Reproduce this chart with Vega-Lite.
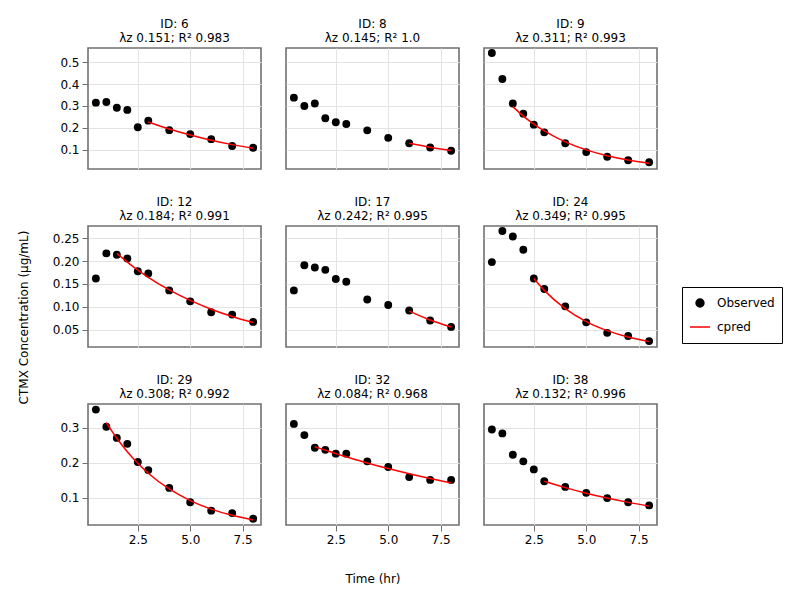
{
  "$schema": "https://vega.github.io/schema/vega-lite/v6.json",
  "padding": {"left": 16, "top": 17, "right": 10, "bottom": 10},
  "background": "white",
  "datasets": {
    "obs": [
      {"id":6,"time":0.5,"conc":0.315,"series":"Observed"},{"id":6,"time":1,"conc":0.318,"series":"Observed"},{"id":6,"time":1.5,"conc":0.292,"series":"Observed"},{"id":6,"time":2,"conc":0.282,"series":"Observed"},{"id":6,"time":2.5,"conc":0.203,"series":"Observed"},{"id":6,"time":3,"conc":0.233,"series":"Observed"},{"id":6,"time":4,"conc":0.190,"series":"Observed"},{"id":6,"time":5,"conc":0.172,"series":"Observed"},{"id":6,"time":6,"conc":0.149,"series":"Observed"},{"id":6,"time":7,"conc":0.118,"series":"Observed"},{"id":6,"time":8,"conc":0.110,"series":"Observed"},
      {"id":8,"time":0.5,"conc":0.338,"series":"Observed"},{"id":8,"time":1,"conc":0.300,"series":"Observed"},{"id":8,"time":1.5,"conc":0.311,"series":"Observed"},{"id":8,"time":2,"conc":0.244,"series":"Observed"},{"id":8,"time":2.5,"conc":0.226,"series":"Observed"},{"id":8,"time":3,"conc":0.218,"series":"Observed"},{"id":8,"time":4,"conc":0.189,"series":"Observed"},{"id":8,"time":5,"conc":0.155,"series":"Observed"},{"id":8,"time":6,"conc":0.130,"series":"Observed"},{"id":8,"time":7,"conc":0.111,"series":"Observed"},{"id":8,"time":8,"conc":0.096,"series":"Observed"},
      {"id":9,"time":0.5,"conc":0.541,"series":"Observed"},{"id":9,"time":1,"conc":0.423,"series":"Observed"},{"id":9,"time":1.5,"conc":0.311,"series":"Observed"},{"id":9,"time":2,"conc":0.265,"series":"Observed"},{"id":9,"time":2.5,"conc":0.215,"series":"Observed"},{"id":9,"time":3,"conc":0.180,"series":"Observed"},{"id":9,"time":4,"conc":0.130,"series":"Observed"},{"id":9,"time":5,"conc":0.090,"series":"Observed"},{"id":9,"time":6,"conc":0.069,"series":"Observed"},{"id":9,"time":7,"conc":0.053,"series":"Observed"},{"id":9,"time":8,"conc":0.044,"series":"Observed"},
      {"id":12,"time":0.5,"conc":0.162,"series":"Observed"},{"id":12,"time":1,"conc":0.217,"series":"Observed"},{"id":12,"time":1.5,"conc":0.214,"series":"Observed"},{"id":12,"time":2,"conc":0.206,"series":"Observed"},{"id":12,"time":2.5,"conc":0.178,"series":"Observed"},{"id":12,"time":3,"conc":0.173,"series":"Observed"},{"id":12,"time":4,"conc":0.136,"series":"Observed"},{"id":12,"time":5,"conc":0.112,"series":"Observed"},{"id":12,"time":6,"conc":0.088,"series":"Observed"},{"id":12,"time":7,"conc":0.083,"series":"Observed"},{"id":12,"time":8,"conc":0.067,"series":"Observed"},
      {"id":17,"time":0.5,"conc":0.136,"series":"Observed"},{"id":17,"time":1,"conc":0.191,"series":"Observed"},{"id":17,"time":1.5,"conc":0.186,"series":"Observed"},{"id":17,"time":2,"conc":0.181,"series":"Observed"},{"id":17,"time":2.5,"conc":0.161,"series":"Observed"},{"id":17,"time":3,"conc":0.155,"series":"Observed"},{"id":17,"time":4,"conc":0.116,"series":"Observed"},{"id":17,"time":5,"conc":0.104,"series":"Observed"},{"id":17,"time":6,"conc":0.092,"series":"Observed"},{"id":17,"time":7,"conc":0.070,"series":"Observed"},{"id":17,"time":8,"conc":0.056,"series":"Observed"},
      {"id":24,"time":0.5,"conc":0.198,"series":"Observed"},{"id":24,"time":1,"conc":0.266,"series":"Observed"},{"id":24,"time":1.5,"conc":0.254,"series":"Observed"},{"id":24,"time":2,"conc":0.225,"series":"Observed"},{"id":24,"time":2.5,"conc":0.162,"series":"Observed"},{"id":24,"time":3,"conc":0.139,"series":"Observed"},{"id":24,"time":4,"conc":0.101,"series":"Observed"},{"id":24,"time":5,"conc":0.066,"series":"Observed"},{"id":24,"time":6,"conc":0.043,"series":"Observed"},{"id":24,"time":7,"conc":0.036,"series":"Observed"},{"id":24,"time":8,"conc":0.025,"series":"Observed"},
      {"id":29,"time":0.5,"conc":0.352,"series":"Observed"},{"id":29,"time":1,"conc":0.303,"series":"Observed"},{"id":29,"time":1.5,"conc":0.271,"series":"Observed"},{"id":29,"time":2,"conc":0.254,"series":"Observed"},{"id":29,"time":2.5,"conc":0.202,"series":"Observed"},{"id":29,"time":3,"conc":0.179,"series":"Observed"},{"id":29,"time":4,"conc":0.128,"series":"Observed"},{"id":29,"time":5,"conc":0.087,"series":"Observed"},{"id":29,"time":6,"conc":0.063,"series":"Observed"},{"id":29,"time":7,"conc":0.056,"series":"Observed"},{"id":29,"time":8,"conc":0.040,"series":"Observed"},
      {"id":32,"time":0.5,"conc":0.311,"series":"Observed"},{"id":32,"time":1,"conc":0.279,"series":"Observed"},{"id":32,"time":1.5,"conc":0.243,"series":"Observed"},{"id":32,"time":2,"conc":0.237,"series":"Observed"},{"id":32,"time":2.5,"conc":0.226,"series":"Observed"},{"id":32,"time":3,"conc":0.226,"series":"Observed"},{"id":32,"time":4,"conc":0.204,"series":"Observed"},{"id":32,"time":5,"conc":0.188,"series":"Observed"},{"id":32,"time":6,"conc":0.159,"series":"Observed"},{"id":32,"time":7,"conc":0.151,"series":"Observed"},{"id":32,"time":8,"conc":0.151,"series":"Observed"},
      {"id":38,"time":0.5,"conc":0.295,"series":"Observed"},{"id":38,"time":1,"conc":0.284,"series":"Observed"},{"id":38,"time":1.5,"conc":0.223,"series":"Observed"},{"id":38,"time":2,"conc":0.204,"series":"Observed"},{"id":38,"time":2.5,"conc":0.181,"series":"Observed"},{"id":38,"time":3,"conc":0.147,"series":"Observed"},{"id":38,"time":4,"conc":0.131,"series":"Observed"},{"id":38,"time":5,"conc":0.114,"series":"Observed"},{"id":38,"time":6,"conc":0.099,"series":"Observed"},{"id":38,"time":7,"conc":0.087,"series":"Observed"},{"id":38,"time":8,"conc":0.078,"series":"Observed"}
    ],
    "pred": [
      {"id":6,"time":3,"conc":0.227,"series":"cpred"},{"id":6,"time":4,"conc":0.195,"series":"cpred"},{"id":6,"time":5,"conc":0.168,"series":"cpred"},{"id":6,"time":6,"conc":0.144,"series":"cpred"},{"id":6,"time":7,"conc":0.124,"series":"cpred"},{"id":6,"time":8,"conc":0.107,"series":"cpred"},
      {"id":8,"time":6,"conc":0.130,"series":"cpred"},{"id":8,"time":7,"conc":0.1125,"series":"cpred"},{"id":8,"time":8,"conc":0.0973,"series":"cpred"},
      {"id":9,"time":1.5,"conc":0.297,"series":"cpred"},{"id":9,"time":2,"conc":0.254,"series":"cpred"},{"id":9,"time":2.5,"conc":0.2177,"series":"cpred"},{"id":9,"time":3,"conc":0.1863,"series":"cpred"},{"id":9,"time":4,"conc":0.1365,"series":"cpred"},{"id":9,"time":5,"conc":0.100,"series":"cpred"},{"id":9,"time":6,"conc":0.0733,"series":"cpred"},{"id":9,"time":7,"conc":0.0537,"series":"cpred"},{"id":9,"time":8,"conc":0.0393,"series":"cpred"},
      {"id":12,"time":1.5,"conc":0.217,"series":"cpred"},{"id":12,"time":2,"conc":0.198,"series":"cpred"},{"id":12,"time":2.5,"conc":0.1805,"series":"cpred"},{"id":12,"time":3,"conc":0.1647,"series":"cpred"},{"id":12,"time":4,"conc":0.137,"series":"cpred"},{"id":12,"time":5,"conc":0.114,"series":"cpred"},{"id":12,"time":6,"conc":0.0948,"series":"cpred"},{"id":12,"time":7,"conc":0.0789,"series":"cpred"},{"id":12,"time":8,"conc":0.0656,"series":"cpred"},
      {"id":17,"time":6,"conc":0.0906,"series":"cpred"},{"id":17,"time":7,"conc":0.0711,"series":"cpred"},{"id":17,"time":8,"conc":0.0558,"series":"cpred"},
      {"id":24,"time":2.5,"conc":0.162,"series":"cpred"},{"id":24,"time":3,"conc":0.136,"series":"cpred"},{"id":24,"time":4,"conc":0.096,"series":"cpred"},{"id":24,"time":5,"conc":0.0677,"series":"cpred"},{"id":24,"time":6,"conc":0.0478,"series":"cpred"},{"id":24,"time":7,"conc":0.0337,"series":"cpred"},{"id":24,"time":8,"conc":0.0238,"series":"cpred"},
      {"id":29,"time":1,"conc":0.315,"series":"cpred"},{"id":29,"time":1.5,"conc":0.270,"series":"cpred"},{"id":29,"time":2,"conc":0.2315,"series":"cpred"},{"id":29,"time":2.5,"conc":0.1985,"series":"cpred"},{"id":29,"time":3,"conc":0.170,"series":"cpred"},{"id":29,"time":4,"conc":0.125,"series":"cpred"},{"id":29,"time":5,"conc":0.0919,"series":"cpred"},{"id":29,"time":6,"conc":0.0675,"series":"cpred"},{"id":29,"time":7,"conc":0.0496,"series":"cpred"},{"id":29,"time":8,"conc":0.0365,"series":"cpred"},
      {"id":32,"time":1.5,"conc":0.246,"series":"cpred"},{"id":32,"time":2,"conc":0.236,"series":"cpred"},{"id":32,"time":2.5,"conc":0.226,"series":"cpred"},{"id":32,"time":3,"conc":0.217,"series":"cpred"},{"id":32,"time":4,"conc":0.1994,"series":"cpred"},{"id":32,"time":5,"conc":0.1833,"series":"cpred"},{"id":32,"time":6,"conc":0.1685,"series":"cpred"},{"id":32,"time":7,"conc":0.155,"series":"cpred"},{"id":32,"time":8,"conc":0.1425,"series":"cpred"},
      {"id":38,"time":3,"conc":0.147,"series":"cpred"},{"id":38,"time":4,"conc":0.1288,"series":"cpred"},{"id":38,"time":5,"conc":0.1129,"series":"cpred"},{"id":38,"time":6,"conc":0.0989,"series":"cpred"},{"id":38,"time":7,"conc":0.0867,"series":"cpred"},{"id":38,"time":8,"conc":0.076,"series":"cpred"}
    ]
  },
  "resolve": {"scale": {"color": "shared", "shape": "shared", "size": "shared"}, "legend": {"color": "shared", "shape": "shared", "size": "shared"}},
  "bounds": "flush",
  "spacing": 178,
  "vconcat": [
    {
      "bounds": "flush", "spacing": 25,
      "hconcat": [
        {"width":173,"height":121,"title":{"text":["ID: 6","λz 0.151; R² 0.983"]},
         "layer":[
          {"data":{"name":"obs"},"transform":[{"filter":"datum.id==6"}],"mark":{"type":"point","filled":true,"opacity":1},
           "encoding":{"x":{"field":"time","type":"quantitative","scale":{"domain":[0.125,8.375],"nice":false,"zero":false},"axis":{"values":[2.5,5,7.5],"labels":false,"ticks":false,"title":null}},
             "y":{"field":"conc","type":"quantitative","scale":{"domain":[0.013,0.564],"nice":false,"zero":false},"axis":{"values":[0.1,0.2,0.3,0.4,0.5],"tickCount":10,"format":".1f","title":null,"labelOverlap":false}},
             "color":{"field":"series","type":"nominal","scale":{"domain":["Observed","cpred"],"range":["black","red"]},"legend":{"title":null}},
             "shape":{"field":"series","type":"nominal","scale":{"domain":["Observed","cpred"],"range":["circle","stroke"]},"legend":{"title":null}},
             "size":{"field":"series","type":"nominal","scale":{"domain":["Observed","cpred"],"range":[62,400]},"legend":{"title":null}}}},
          {"data":{"name":"pred"},"transform":[{"filter":"datum.id==6"}],"mark":{"type":"line","strokeWidth":1.5,"interpolate":"monotone"},
           "encoding":{"x":{"field":"time","type":"quantitative"},"y":{"field":"conc","type":"quantitative"},"color":{"field":"series","type":"nominal"}}}
         ]},
        {"width":173,"height":121,"title":{"text":["ID: 8","λz 0.145; R² 1.0"]},
         "layer":[
          {"data":{"name":"obs"},"transform":[{"filter":"datum.id==8"}],"mark":{"type":"point","filled":true,"opacity":1},
           "encoding":{"x":{"field":"time","type":"quantitative","scale":{"domain":[0.125,8.375],"nice":false,"zero":false},"axis":{"values":[2.5,5,7.5],"labels":false,"ticks":false,"title":null}},
             "y":{"field":"conc","type":"quantitative","scale":{"domain":[0.013,0.564],"nice":false,"zero":false},"axis":{"values":[0.1,0.2,0.3,0.4,0.5],"tickCount":10,"labels":false,"ticks":false,"title":null}},
             "color":{"field":"series","type":"nominal"},"shape":{"field":"series","type":"nominal"},"size":{"field":"series","type":"nominal"}}},
          {"data":{"name":"pred"},"transform":[{"filter":"datum.id==8"}],"mark":{"type":"line","strokeWidth":1.5,"interpolate":"monotone"},
           "encoding":{"x":{"field":"time","type":"quantitative"},"y":{"field":"conc","type":"quantitative"},"color":{"field":"series","type":"nominal"}}}
         ]},
        {"width":173,"height":121,"title":{"text":["ID: 9","λz 0.311; R² 0.993"]},
         "layer":[
          {"data":{"name":"obs"},"transform":[{"filter":"datum.id==9"}],"mark":{"type":"point","filled":true,"opacity":1},
           "encoding":{"x":{"field":"time","type":"quantitative","scale":{"domain":[0.125,8.375],"nice":false,"zero":false},"axis":{"values":[2.5,5,7.5],"labels":false,"ticks":false,"title":null}},
             "y":{"field":"conc","type":"quantitative","scale":{"domain":[0.013,0.564],"nice":false,"zero":false},"axis":{"values":[0.1,0.2,0.3,0.4,0.5],"tickCount":10,"labels":false,"ticks":false,"title":null}},
             "color":{"field":"series","type":"nominal"},"shape":{"field":"series","type":"nominal"},"size":{"field":"series","type":"nominal"}}},
          {"data":{"name":"pred"},"transform":[{"filter":"datum.id==9"}],"mark":{"type":"line","strokeWidth":1.5,"interpolate":"monotone"},
           "encoding":{"x":{"field":"time","type":"quantitative"},"y":{"field":"conc","type":"quantitative"},"color":{"field":"series","type":"nominal"}}}
         ]}
      ]
    },
    {
      "bounds": "flush", "spacing": 25,
      "hconcat": [
        {"width":173,"height":121,"title":{"text":["ID: 12","λz 0.184; R² 0.991"]},
         "layer":[
          {"data":{"name":"obs"},"transform":[{"filter":"datum.id==12"}],"mark":{"type":"point","filled":true,"opacity":1},
           "encoding":{"x":{"field":"time","type":"quantitative","scale":{"domain":[0.125,8.375],"nice":false,"zero":false},"axis":{"values":[2.5,5,7.5],"labels":false,"ticks":false,"title":null}},
             "y":{"field":"conc","type":"quantitative","scale":{"domain":[0.012,0.277],"nice":false,"zero":false},"axis":{"values":[0.05,0.1,0.15,0.2,0.25],"tickCount":10,"format":".2f","title":"CTMX Concentration (μg/mL)","titlePadding":22,"titleY":91,"labelOverlap":false}},
             "color":{"field":"series","type":"nominal"},"shape":{"field":"series","type":"nominal"},"size":{"field":"series","type":"nominal"}}},
          {"data":{"name":"pred"},"transform":[{"filter":"datum.id==12"}],"mark":{"type":"line","strokeWidth":1.5,"interpolate":"monotone"},
           "encoding":{"x":{"field":"time","type":"quantitative"},"y":{"field":"conc","type":"quantitative"},"color":{"field":"series","type":"nominal"}}}
         ]},
        {"width":173,"height":121,"title":{"text":["ID: 17","λz 0.242; R² 0.995"]},
         "layer":[
          {"data":{"name":"obs"},"transform":[{"filter":"datum.id==17"}],"mark":{"type":"point","filled":true,"opacity":1},
           "encoding":{"x":{"field":"time","type":"quantitative","scale":{"domain":[0.125,8.375],"nice":false,"zero":false},"axis":{"values":[2.5,5,7.5],"labels":false,"ticks":false,"title":null}},
             "y":{"field":"conc","type":"quantitative","scale":{"domain":[0.012,0.277],"nice":false,"zero":false},"axis":{"values":[0.05,0.1,0.15,0.2,0.25],"tickCount":10,"labels":false,"ticks":false,"title":null}},
             "color":{"field":"series","type":"nominal"},"shape":{"field":"series","type":"nominal"},"size":{"field":"series","type":"nominal"}}},
          {"data":{"name":"pred"},"transform":[{"filter":"datum.id==17"}],"mark":{"type":"line","strokeWidth":1.5,"interpolate":"monotone"},
           "encoding":{"x":{"field":"time","type":"quantitative"},"y":{"field":"conc","type":"quantitative"},"color":{"field":"series","type":"nominal"}}}
         ]},
        {"width":173,"height":121,"title":{"text":["ID: 24","λz 0.349; R² 0.995"]},
         "layer":[
          {"data":{"name":"obs"},"transform":[{"filter":"datum.id==24"}],"mark":{"type":"point","filled":true,"opacity":1},
           "encoding":{"x":{"field":"time","type":"quantitative","scale":{"domain":[0.125,8.375],"nice":false,"zero":false},"axis":{"values":[2.5,5,7.5],"labels":false,"ticks":false,"title":null}},
             "y":{"field":"conc","type":"quantitative","scale":{"domain":[0.012,0.277],"nice":false,"zero":false},"axis":{"values":[0.05,0.1,0.15,0.2,0.25],"tickCount":10,"labels":false,"ticks":false,"title":null}},
             "color":{"field":"series","type":"nominal"},"shape":{"field":"series","type":"nominal"},"size":{"field":"series","type":"nominal"}}},
          {"data":{"name":"pred"},"transform":[{"filter":"datum.id==24"}],"mark":{"type":"line","strokeWidth":1.5,"interpolate":"monotone"},
           "encoding":{"x":{"field":"time","type":"quantitative"},"y":{"field":"conc","type":"quantitative"},"color":{"field":"series","type":"nominal"}}}
         ]}
      ]
    },
    {
      "bounds": "flush", "spacing": 25,
      "hconcat": [
        {"width":173,"height":121,"title":{"text":["ID: 29","λz 0.308; R² 0.992"]},
         "layer":[
          {"data":{"name":"obs"},"transform":[{"filter":"datum.id==29"}],"mark":{"type":"point","filled":true,"opacity":1},
           "encoding":{"x":{"field":"time","type":"quantitative","scale":{"domain":[0.125,8.375],"nice":false,"zero":false},"axis":{"values":[2.5,5,7.5],"tickCount":10,"format":".1f","title":null}},
             "y":{"field":"conc","type":"quantitative","scale":{"domain":[0.022,0.368],"nice":false,"zero":false},"axis":{"values":[0.1,0.2,0.3],"tickCount":10,"format":".1f","title":null,"labelOverlap":false}},
             "color":{"field":"series","type":"nominal"},"shape":{"field":"series","type":"nominal"},"size":{"field":"series","type":"nominal"}}},
          {"data":{"name":"pred"},"transform":[{"filter":"datum.id==29"}],"mark":{"type":"line","strokeWidth":1.5,"interpolate":"monotone"},
           "encoding":{"x":{"field":"time","type":"quantitative"},"y":{"field":"conc","type":"quantitative"},"color":{"field":"series","type":"nominal"}}}
         ]},
        {"width":173,"height":121,"title":{"text":["ID: 32","λz 0.084; R² 0.968"]},
         "layer":[
          {"data":{"name":"obs"},"transform":[{"filter":"datum.id==32"}],"mark":{"type":"point","filled":true,"opacity":1},
           "encoding":{"x":{"field":"time","type":"quantitative","scale":{"domain":[0.125,8.375],"nice":false,"zero":false},"axis":{"values":[2.5,5,7.5],"tickCount":10,"format":".1f","title":"Time (hr)","titlePadding":28}},
             "y":{"field":"conc","type":"quantitative","scale":{"domain":[0.022,0.368],"nice":false,"zero":false},"axis":{"values":[0.1,0.2,0.3],"tickCount":10,"labels":false,"ticks":false,"title":null}},
             "color":{"field":"series","type":"nominal"},"shape":{"field":"series","type":"nominal"},"size":{"field":"series","type":"nominal"}}},
          {"data":{"name":"pred"},"transform":[{"filter":"datum.id==32"}],"mark":{"type":"line","strokeWidth":1.5,"interpolate":"monotone"},
           "encoding":{"x":{"field":"time","type":"quantitative"},"y":{"field":"conc","type":"quantitative"},"color":{"field":"series","type":"nominal"}}}
         ]},
        {"width":173,"height":121,"title":{"text":["ID: 38","λz 0.132; R² 0.996"]},
         "layer":[
          {"data":{"name":"obs"},"transform":[{"filter":"datum.id==38"}],"mark":{"type":"point","filled":true,"opacity":1},
           "encoding":{"x":{"field":"time","type":"quantitative","scale":{"domain":[0.125,8.375],"nice":false,"zero":false},"axis":{"values":[2.5,5,7.5],"tickCount":10,"format":".1f","title":null}},
             "y":{"field":"conc","type":"quantitative","scale":{"domain":[0.022,0.368],"nice":false,"zero":false},"axis":{"values":[0.1,0.2,0.3],"tickCount":10,"labels":false,"ticks":false,"title":null}},
             "color":{"field":"series","type":"nominal"},"shape":{"field":"series","type":"nominal"},"size":{"field":"series","type":"nominal"}}},
          {"data":{"name":"pred"},"transform":[{"filter":"datum.id==38"}],"mark":{"type":"line","strokeWidth":1.5,"interpolate":"monotone"},
           "encoding":{"x":{"field":"time","type":"quantitative"},"y":{"field":"conc","type":"quantitative"},"color":{"field":"series","type":"nominal"}}}
         ]}
      ]
    }
  ],
  "config": {
    "font": "DejaVu Sans",
    "view": {"stroke": "#707070", "strokeWidth": 1.6},
    "axis": {"gridColor": "#e3e3e3", "gridWidth": 1, "domain": false, "tickColor": "#707070", "tickSize": 6, "labelFont": "DejaVu Sans", "labelFontSize": 12, "labelColor": "black", "titleFont": "DejaVu Sans", "titleFontSize": 12, "titleFontWeight": "normal", "titleColor": "black", "labelPadding": 3, "labelOverlap": false},
    "title": {"font": "DejaVu Sans", "fontSize": 12, "fontWeight": "normal", "color": "black", "offset": 3, "lineHeight": 14, "anchor": "middle"},
    "legend": {"orient": "none", "legendX": 594, "legendY": 239, "strokeColor": "black", "fillColor": "white", "padding": 7, "rowPadding": 6, "clipHeight": 18, "labelFont": "DejaVu Sans", "labelFontSize": 12, "labelColor": "black", "symbolOffset": 0, "labelOffset": 6, "symbolStrokeWidth": 1.5}
  }
}
